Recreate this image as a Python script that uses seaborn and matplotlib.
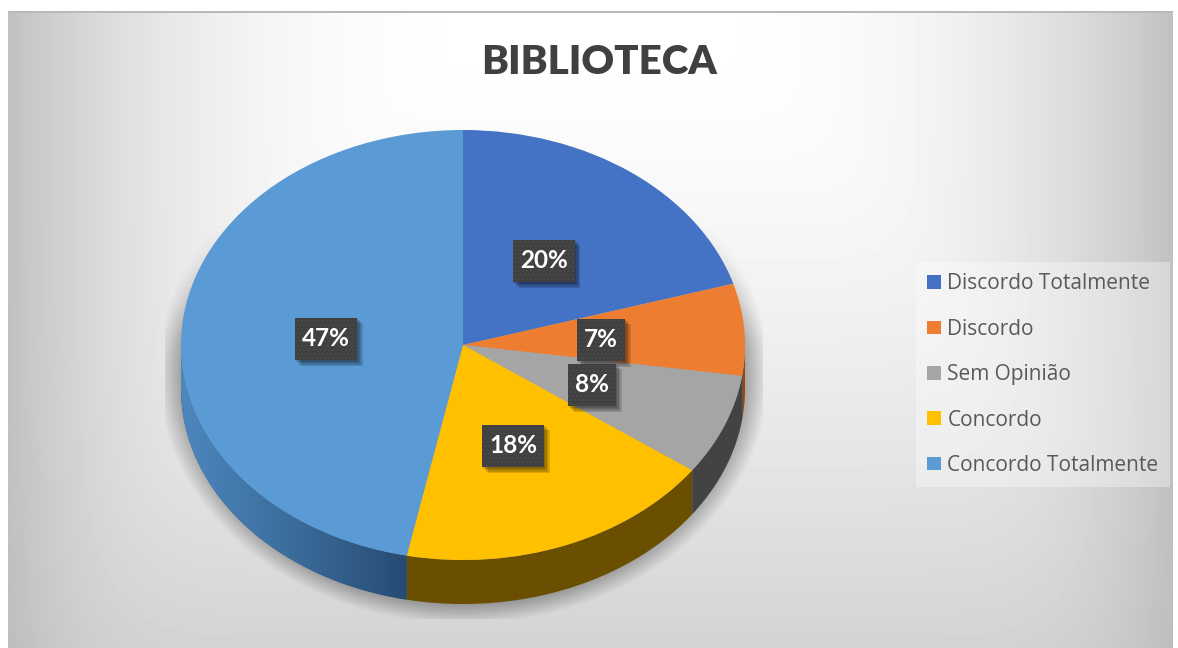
import numpy as np
import matplotlib
matplotlib.use("Agg")
import matplotlib.pyplot as plt
import matplotlib.patheffects as pe
from matplotlib.patches import Polygon
import seaborn as sns

# data
title = "BIBLIOTECA"
categories = ["Discordo Totalmente", "Discordo", "Sem Opinião", "Concordo", "Concordo Totalmente"]
values = [20.4, 6.9, 7.6, 18.3, 46.8]
colors = ["#4472C4", "#ED7D31", "#A5A5A5", "#FFC000", "#5B9BD5"]
side_colors = ["#2B4A80", "#8A4A1C", "#434343", "#6B4F00", "#2F5880"]
label_px = [(544, 261), (601, 340), (592, 385), (513, 446), (326, 339)]

W, H = 1178, 648
cx, cy, rx, ry, depth = 463, 345, 282, 215, 44

sns.set_theme(style="white")
plt.rcParams["font.family"] = ["Open Sans", "DejaVu Sans"]

fig = plt.figure(figsize=(W / 100, H / 100), dpi=100, facecolor="white")

# background gradient + soft pie shadow
bg = fig.add_axes([0, 0, 1, 1], zorder=0)
yy, xx = np.mgrid[0:H, 0:W]
dx = np.abs(xx - 590) / 585
dy = np.clip(yy - 30, 0, None) / 610
shade_x = 63 * dx ** 3
shade_y = 43 * dy ** 1.4
grey = 255 - (shade_x ** 4 + shade_y ** 4) ** 0.25
r = np.sqrt(((xx - cx) / rx) ** 2 + ((yy - 372) / 232) ** 2)
shadow = 0.30 * np.clip(1 - (r - 1) / 0.085, 0, 1) * np.clip((yy - 220) / 120, 0, 1)
shadow[(xx < 165) | (xx > 762) | (yy > 618)] = 0
grey = grey * (1 - shadow)
grey[(xx < 8) | (xx > 1172) | (yy < 11)] = 255
grey[(yy >= 11) & (yy < 13) & (xx >= 8) & (xx <= 1172)] = 185
bg.imshow(grey, cmap="gray", vmin=0, vmax=255, aspect="auto", extent=(0, W, H, 0), interpolation="bilinear")
bg.set_axis_off()

# pie, squashed into an ellipse
ax = fig.add_axes([0, 0, 1, 1], zorder=1)
ax.patch.set_alpha(0)
wedges, _ = ax.pie(values, colors=colors, startangle=90, counterclock=False, radius=1,
                   wedgeprops=dict(linewidth=0, zorder=3))
ax.set_aspect("auto")

d = depth / ry
edges = np.cumsum([0] + values) * 3.6
for i in range(len(values)):
    a0, a1 = max(edges[i], 90), min(edges[i + 1], 270)
    if a1 <= a0:
        continue
    t = np.radians(np.linspace(a0, a1, 120))
    top = np.column_stack([np.sin(t), np.cos(t)])
    low = top[::-1] - [0, d]
    poly = Polygon(np.vstack([top, low]), closed=True, facecolor=side_colors[i], linewidth=0, zorder=2)
    ax.add_patch(poly)
    if i == 4:
        # side of the big slice gets darker towards the front
        cmap = matplotlib.colors.LinearSegmentedColormap.from_list("side", ["#264B73", "#3B6C9B", "#4C87BE"])
        grad = ax.imshow(np.linspace(0, 1, 256)[None, :], cmap=cmap, aspect="auto", zorder=2.5,
                         extent=(np.sin(np.radians(a0)), -1, -1.3, 0))
        grad.set_clip_path(poly)

ax.set_xlim(-cx / rx, (W - cx) / rx)
ax.set_ylim((cy - H) / ry, cy / ry)
ax.set_axis_off()

# data labels
soft = [pe.SimplePatchShadow(offset=(k, -k), alpha=0.14, shadow_rgbFace="black", hatch=None) for k in (4, 3, 2, 1)]
for v, (px, py) in zip(values, label_px):
    t = ax.text((px - cx) / rx, (cy - py) / ry, f"{v:.0f}%", color="white", fontsize=17.5, family="Lato",
                fontweight="bold", ha="center", va="center", zorder=6,
                bbox=dict(boxstyle="square,pad=0.29", mutation_aspect=1.4, facecolor="#404040",
                          edgecolor="#4A4A4A", linewidth=0, hatch="...."))
    t.get_bbox_patch().set_path_effects(soft + [pe.Normal()])

fig.text(599 / W, 1 - 63 / H, title, fontsize=29, family="Lato", fontweight="heavy", color="#404040",
         ha="center", va="center")

leg = ax.legend(wedges, categories, loc="upper left", bbox_to_anchor=(916 / W, 1 - 262 / H),
                bbox_transform=fig.transFigure, frameon=True, fontsize=15, labelcolor="#595959",
                handlelength=0.63, handleheight=0.63, handletextpad=0.33, labelspacing=1.17,
                borderaxespad=0, borderpad=0.55, fancybox=False)
leg.get_frame().set(facecolor="white", alpha=0.35, linewidth=0)

fig.savefig("out.png", dpi=100)
